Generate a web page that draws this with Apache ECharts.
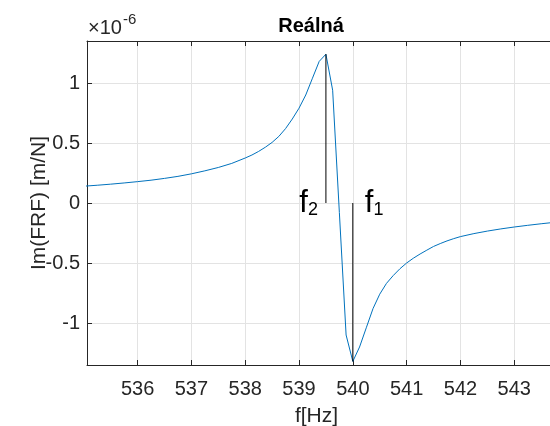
<!DOCTYPE html>
<html>
<head>
<meta charset="utf-8">
<script src="https://cdn.jsdelivr.net/npm/echarts@6/dist/echarts.min.js"></script>
<style>
  html, body { margin: 0; padding: 0; background: #fff; }
  #chart { width: 550px; height: 426px; }
</style>
</head>
<body>
<div id="chart"></div>
<script>
// frequency [Hz] and Im(FRF) in units of 1e-6 m/N
var freqHz = [
  535.0, 535.25, 535.5, 535.75, 536.0, 536.25, 536.5, 536.75,
  537.0, 537.25, 537.5, 537.75, 538.0, 538.125, 538.25, 538.375,
  538.5, 538.625, 538.75, 538.875, 539.0, 539.125, 539.25, 539.375,
  539.5, 539.625, 539.75, 539.875, 540.0, 540.125, 540.25, 540.375,
  540.5, 540.625, 540.75, 540.875, 541.0, 541.125, 541.25, 541.375,
  541.5, 541.625, 541.75, 541.875, 542.0, 542.25, 542.5, 542.75,
  543.0, 543.25, 543.5, 543.75
];
var imFrf = [
  0.14, 0.148, 0.157, 0.167, 0.178, 0.19, 0.205, 0.222,
  0.243, 0.268, 0.296, 0.33, 0.375, 0.40, 0.43, 0.465,
  0.505, 0.555, 0.62, 0.70, 0.79, 0.90, 1.04, 1.18,
  1.24, 0.94, -0.08, -1.10, -1.32, -1.20, -1.04, -0.88,
  -0.76, -0.67, -0.605, -0.548, -0.50, -0.46, -0.425, -0.393,
  -0.362, -0.338, -0.316, -0.297, -0.28, -0.255, -0.234, -0.216,
  -0.20, -0.186, -0.173, -0.161
];
// marker lines f2 and f1 (freq, from 0 to curve value)
var f2Line = [[539.5, 0], [539.5, 1.24]];
var f1Line = [[540.0, 0], [540.0, -1.32]];

var xTicks = [536, 537, 538, 539, 540, 541, 542, 543];
var yTicks = [-1, -0.5, 0, 0.5, 1];
var xRange = [535.06, 543.72];
var yRange = [-1.35, 1.35];

var ink = '#262626';
var gridCol = '#e3e3e3';
var font = 'Liberation Sans, Arial, sans-serif';

var chart = echarts.init(document.getElementById('chart'));

function markerLabel(idx) {
  return {
    show: true,
    formatter: '{f|f}{s|' + idx + '}',
    rich: {
      f: { fontSize: 31, fontFamily: font, color: '#000', verticalAlign: 'bottom', lineHeight: 32 },
      s: { fontSize: 18, fontFamily: font, color: '#000', verticalAlign: 'bottom', lineHeight: 32 }
    }
  };
}

var points = freqHz.map(function (f, i) { return [f, imFrf[i]]; });

var tickStyle = { show: true, inside: true, length: 5, lineStyle: { color: ink } };

var option = {
  animation: false,
  backgroundColor: '#fff',
  title: {
    text: 'Reálná',
    left: 306,
    top: 11,
    textAlign: 'center',
    textStyle: { fontFamily: font, fontSize: 20, fontWeight: 'bold', color: '#000' }
  },
  grid: {
    left: 87, top: 41, right: -3, bottom: 61,
    containLabel: false,
    outerBoundsMode: 'none'
  },
  xAxis: [{
    type: 'value',
    min: xRange[0],
    max: xRange[1],
    name: 'f[Hz]',
    nameLocation: 'middle',
    nameGap: 41,
    nameMoveOverlap: false,
    nameTextStyle: { fontFamily: font, fontSize: 21, color: ink, padding: [0, 0, 0, -7] },
    axisLine: { show: true, onZero: false, lineStyle: { color: ink, width: 1 } },
    axisTick: Object.assign({ customValues: xTicks }, tickStyle),
    axisLabel: { customValues: xTicks, fontFamily: font, fontSize: 20, color: ink, margin: 14 },
    splitLine: { show: true, lineStyle: { color: gridCol, width: 1 } }
  }, {
    type: 'value',
    position: 'top',
    min: xRange[0],
    max: xRange[1],
    axisLine: { show: true, onZero: false, lineStyle: { color: ink, width: 1 } },
    axisTick: Object.assign({ customValues: xTicks }, tickStyle),
    axisLabel: { show: false },
    splitLine: { show: false }
  }],
  yAxis: {
    type: 'value',
    min: yRange[0],
    max: yRange[1],
    name: 'Im(FRF) [m/N]',
    nameLocation: 'middle',
    nameGap: 37,
    nameMoveOverlap: false,
    nameRotate: 90,
    nameTextStyle: { fontFamily: font, fontSize: 21, color: ink },
    axisLine: { show: true, onZero: false, lineStyle: { color: ink, width: 1 } },
    axisTick: Object.assign({ customValues: yTicks }, tickStyle),
    axisLabel: { customValues: yTicks, fontFamily: font, fontSize: 20, color: ink, margin: 7 },
    splitLine: { show: true, lineStyle: { color: gridCol, width: 1 } }
  },
  graphic: [{
    type: 'text',
    left: 88,
    top: 18,
    style: { text: '×10', fontFamily: font, fontSize: 20, fill: ink }
  }, {
    type: 'text',
    left: 123,
    top: 12,
    style: { text: '-6', fontFamily: font, fontSize: 15, fill: ink }
  }],
  series: [{
    type: 'line',
    data: points,
    showSymbol: false,
    lineStyle: { color: '#0072BD', width: 1 },
    z: 3
  }, {
    type: 'line',
    data: [
      { value: f2Line[0], label: Object.assign(markerLabel(2), { position: 'left', distance: 8 }) },
      f2Line[1]
    ],
    symbol: 'circle',
    symbolSize: 0,
    lineStyle: { color: '#000', width: 1 },
    z: 4
  }, {
    type: 'line',
    data: [
      { value: f1Line[0], label: Object.assign(markerLabel(1), { position: 'right', distance: 12 }) },
      f1Line[1]
    ],
    symbol: 'circle',
    symbolSize: 0,
    lineStyle: { color: '#000', width: 1 },
    z: 4
  }]
};

chart.setOption(option);
</script>
</body>
</html>
